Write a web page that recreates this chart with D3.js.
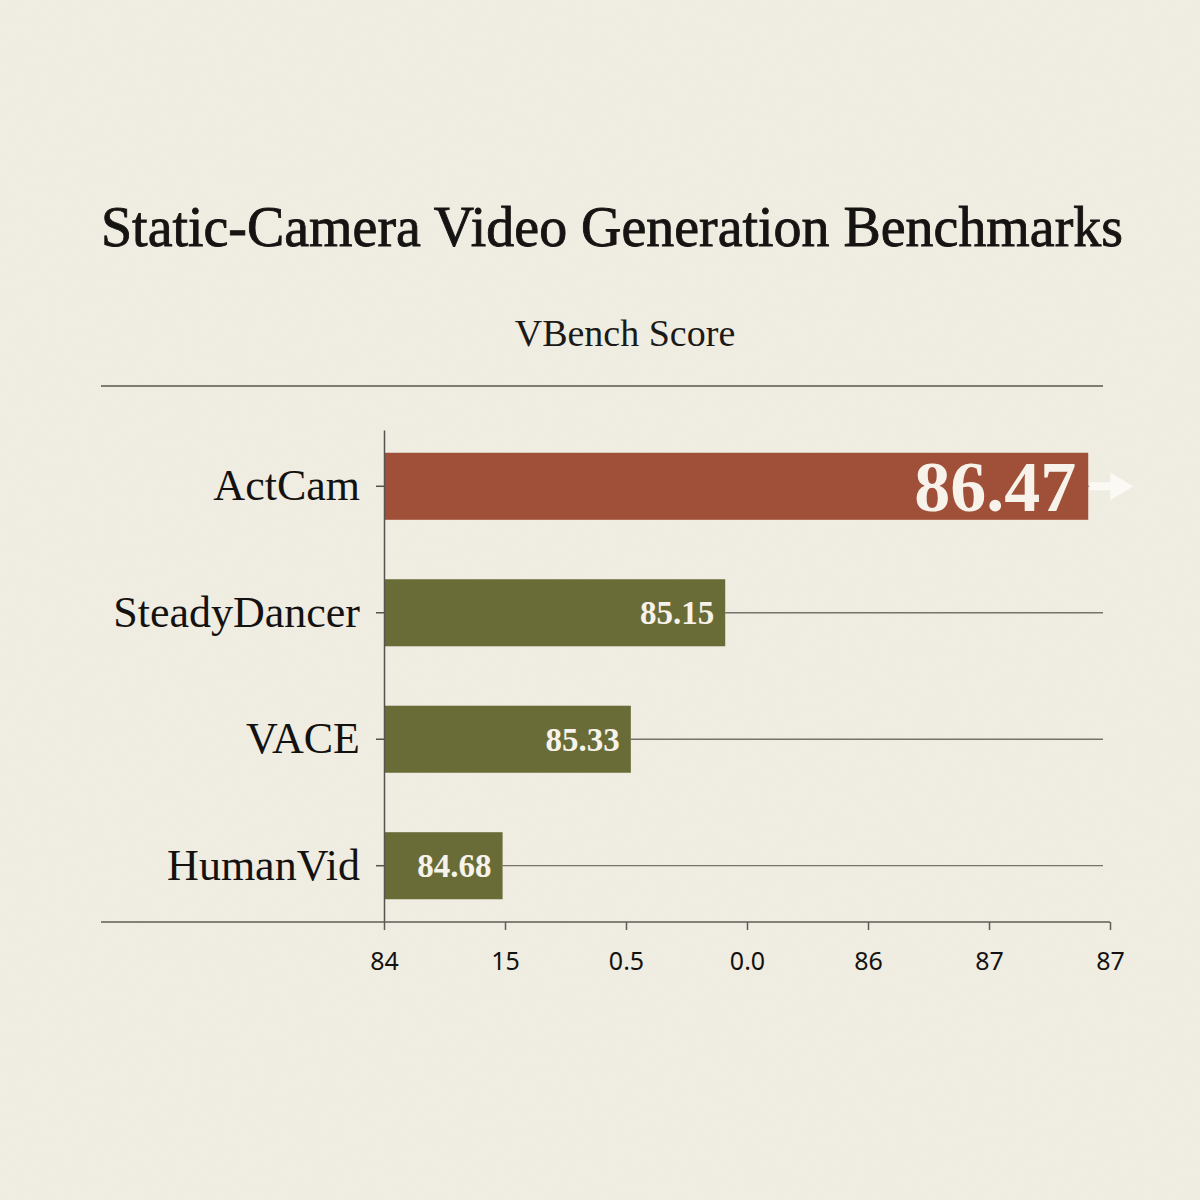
<!DOCTYPE html>
<html>
<head>
<meta charset="utf-8">
<script src="https://cdn.jsdelivr.net/npm/d3@7/dist/d3.min.js"></script>
<style>
	body { margin: 0; background: #f1eee4; }
	#chart { width: 1200px; height: 1200px; }
</style>
</head>
<body>
<div id="chart"></div>
<script>
const categories = [ 'ActCam', 'SteadyDancer', 'VACE', 'HumanVid' ];
const scoreLabels = [ '86.47', '85.15', '85.33', '84.68' ];
// where each bar ends on the axis, as drawn in the picture
const barValues = [ 86.91, 85.41, 85.02, 84.49 ];
const tickValues = [ 84, 84.5, 85, 85.5, 86, 86.5, 87 ];
const tickLabels = [ '84', '15', '0.5', '0.0', '86', '87', '87' ];

const width = 1200,
	height = 1200;
const serif = '"Liberation Serif", "DejaVu Serif", serif';
const sans = '"Noto Sans", "Open Sans", sans-serif';

const svg = d3.select('#chart').append('svg').attr('width', width).attr('height', height).attr('viewBox', [ 0, 0, width, height ]);

// paper background with faint grain
const defs = svg.append('defs');
const grain = defs.append('filter').attr('id', 'grain').attr('x', 0).attr('y', 0).attr('width', '100%').attr('height', '100%');
grain.append('feTurbulence').attr('type', 'fractalNoise').attr('baseFrequency', 0.9).attr('numOctaves', 2).attr('seed', 4);
grain.append('feColorMatrix').attr('values', '0 0 0 0 0.45  0 0 0 0 0.42  0 0 0 0 0.35  0 0 0 0.06 0');
svg.append('rect').attr('width', width).attr('height', height).attr('fill', '#f1eee4');
svg.append('rect').attr('width', width).attr('height', height).attr('filter', 'url(#grain)');

const x = d3.scaleLinear().domain([ 84, 87 ]).range([ 384, 1110 ]);
const y = d3.scaleBand().domain(categories).range([ 430, 922 ]).paddingInner(0.47).paddingOuter(0.18);

// titles
svg.append('text')
	.attr('x', 101)
	.attr('y', 246)
	.attr('textLength', 1022)
	.attr('lengthAdjust', 'spacingAndGlyphs')
	.attr('font-family', serif)
	.attr('font-size', 58)
	.attr('fill', '#161412')
	.attr('stroke', '#161412')
	.attr('stroke-width', 0.9)
	.text('Static-Camera Video Generation Benchmarks');

svg.append('text')
	.attr('x', 625)
	.attr('y', 346)
	.attr('text-anchor', 'middle')
	.attr('font-family', serif)
	.attr('font-size', 38)
	.attr('fill', '#1c1a17')
	.text('VBench Score');

svg.append('line')
	.attr('x1', 101).attr('x2', 1103)
	.attr('y1', 386).attr('y2', 386)
	.attr('stroke', '#7d7b72')
	.attr('stroke-width', 2);

// gridlines from bar end to right edge
svg.append('g')
	.selectAll('line')
	.data(categories)
	.join('line')
	.attr('x1', (d, i) => x(barValues[i]))
	.attr('x2', 1103)
	.attr('y1', (d) => y(d) + y.bandwidth() / 2)
	.attr('y2', (d) => y(d) + y.bandwidth() / 2)
	.attr('stroke', '#75736b')
	.attr('stroke-width', 1.3);

// bars
svg.append('g')
	.selectAll('rect')
	.data(categories)
	.join('rect')
	.attr('x', x(84))
	.attr('y', (d) => y(d))
	.attr('width', (d, i) => x(barValues[i]) - x(84))
	.attr('height', y.bandwidth())
	.attr('fill', (d, i) => (i === 0 ? '#a04f38' : '#6a6c38'));

// value labels
svg.append('g')
	.selectAll('text')
	.data(categories)
	.join('text')
	.attr('x', (d, i) => x(barValues[i]) - (i === 0 ? 12 : 11))
	.attr('y', (d) => y(d) + y.bandwidth() / 2)
	.attr('dy', '0.35em')
	.attr('text-anchor', 'end')
	.attr('font-family', serif)
	.attr('font-weight', 'bold')
	.attr('font-size', (d, i) => (i === 0 ? 72 : 33))
	.attr('fill', '#f7f3ea')
	.text((d, i) => scoreLabels[i]);

// arrow after the top bar
const ay = y(categories[0]) + y.bandwidth() / 2;
const ax = x(barValues[0]);
svg.append('line')
	.attr('x1', ax + 1).attr('x2', ax + 26)
	.attr('y1', ay).attr('y2', ay)
	.attr('stroke', '#fbf9f4')
	.attr('stroke-width', 8);
svg.append('path')
	.attr('d', `M${ax + 22},${ay - 14}L${ax + 45},${ay}L${ax + 22},${ay + 14}Z`)
	.attr('fill', '#fbf9f4');

// y axis
const yAxis = svg.append('g')
	.attr('transform', `translate(${x(84)},0)`)
	.call(d3.axisLeft(y).tickSize(8).tickPadding(16).tickSizeOuter(0));
yAxis.select('.domain').attr('stroke', '#55534d').attr('stroke-width', 1.5);
yAxis.selectAll('.tick line').attr('stroke', '#55534d').attr('stroke-width', 1.5);
yAxis.selectAll('.tick text')
	.attr('font-family', serif)
	.attr('font-size', 44)
	.attr('fill', '#141210');

// x axis
svg.append('line')
	.attr('x1', 101).attr('x2', 1110)
	.attr('y1', 922).attr('y2', 922)
	.attr('stroke', '#5e5c55')
	.attr('stroke-width', 1.6);
const xAxis = svg.append('g')
	.attr('transform', 'translate(0,922)')
	.call(d3.axisBottom(x).tickValues(tickValues).tickFormat((d, i) => tickLabels[i]).tickSize(8).tickPadding(22));
xAxis.select('.domain').remove();
xAxis.selectAll('.tick line').attr('stroke', '#5e5c55').attr('stroke-width', 1.5);
xAxis.selectAll('.tick text')
	.attr('font-family', sans)
	.attr('font-size', 25)
	.attr('fill', '#141210');
</script>
</body>
</html>
